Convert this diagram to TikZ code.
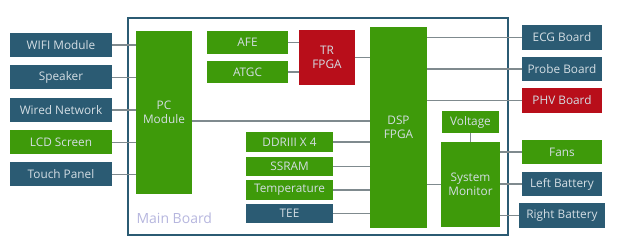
\documentclass[tikz,border=0pt]{standalone}
\usepackage{fontspec}
\setmainfont{Open Sans}
\definecolor{boardteal}{HTML}{2B5B73}
\definecolor{boardgreen}{HTML}{3E9A0A}
\definecolor{boardred}{HTML}{B80E1A}
\definecolor{boxtext}{HTML}{D4DEE4}
\definecolor{wirec}{HTML}{7F8A8E}
\definecolor{labelc}{HTML}{B6B6DE}
\tikzset{
  blk/.style={inner sep=0pt, text=boxtext, font=\fontsize{11.8}{14}\selectfont, align=center},
  tealblk/.style={blk, fill=boardteal},
  greenblk/.style={blk, fill=boardgreen},
  redblk/.style={blk, fill=boardred},
  wire/.style={draw=wirec, line width=1.3pt}
}
\begin{document}
\begin{tikzpicture}[x=1pt, y=-1pt]
\useasboundingbox (0,0) rectangle (624,245);
% main board frame
\draw[boardteal, line width=1.8pt] (128,18) rectangle (508,235);
\node[anchor=west, text=labelc, font=\fontsize{14}{16}\selectfont] (mainlbl) at (133,218) {Main Board};
% left side peripherals
\node[tealblk, minimum width=102pt, minimum height=24pt] (wifi) at (61,45) {WIFI Module};
\node[tealblk, minimum width=102pt, minimum height=24pt] (speaker) at (61,77.5) {Speaker};
\node[tealblk, minimum width=102pt, minimum height=24pt] (wired) at (61,110) {Wired Network};
\node[greenblk, minimum width=102pt, minimum height=24pt] (lcd) at (61,142.5) {LCD Screen};
\node[tealblk, minimum width=102pt, minimum height=24pt] (touch) at (61,174.5) {Touch Panel};
% on-board blocks
\node[greenblk, minimum width=56pt, minimum height=163pt] (pc) at (164,112.5) {PC\\Module};
\node[greenblk, minimum width=81pt, minimum height=23pt] (afe) at (247.5,42.5) {AFE};
\node[greenblk, minimum width=81pt, minimum height=22pt] (atgc) at (247.5,72) {ATGC};
\node[redblk, minimum width=56pt, minimum height=55pt] (tr) at (327,57.5) {TR\\FPGA};
\node[greenblk, minimum width=57pt, minimum height=201pt] (dsp) at (398.5,127.5) {DSP\\FPGA};
\node[greenblk, minimum width=87pt, minimum height=20pt] (ddr) at (289.5,142) {DDRIII X 4};
\node[greenblk, minimum width=87pt, minimum height=19pt] (ssram) at (289.5,166.5) {SSRAM};
\node[greenblk, minimum width=87pt, minimum height=20pt] (temp) at (289.5,190) {Temperature};
\node[tealblk, minimum width=87pt, minimum height=19pt] (tee) at (289.5,213.5) {TEE};
\node[greenblk, minimum width=57pt, minimum height=22pt] (volt) at (470.5,122) {Voltage};
\node[greenblk, minimum width=59pt, minimum height=85pt] (sysmon) at (470.5,184.5) {System\\Monitor};
% right side peripherals
\node[tealblk, minimum width=80pt, minimum height=25pt] (ecg) at (562,37.5) {ECG Board};
\node[tealblk, minimum width=80pt, minimum height=24pt] (probe) at (562,69) {Probe Board};
\node[redblk, minimum width=80pt, minimum height=25pt] (phv) at (562,100.5) {PHV Board};
\node[greenblk, minimum width=80pt, minimum height=24pt] (fans) at (562,152) {Fans};
\node[tealblk, minimum width=80pt, minimum height=24pt] (lbat) at (562,184) {Left Battery};
\node[tealblk, minimum width=86pt, minimum height=25pt] (rbat) at (562,215.5) {Right Battery};
% connectors
\foreach \n in {wifi, speaker, wired, lcd, touch}
  \draw[wire] (\n.east) -- (\n.east -| pc.west);
\draw[wire] (afe.east) -- (afe.east -| tr.west);
\draw[wire] (atgc.east) -- (atgc.east -| tr.west);
\draw[wire] (tr.east) -- (tr.east -| dsp.west);
\draw[wire] ([yshift=-8.5pt]pc.east) -- ([yshift=-8.5pt]pc.east -| dsp.west);
\foreach \n in {ddr, ssram, temp, tee}
  \draw[wire] (\n.east) -- (\n.east -| dsp.west);
\foreach \n in {ecg, probe, phv}
  \draw[wire] (\n.west -| dsp.east) -- (\n.west);
\draw[wire] (sysmon.west -| dsp.east) -- (sysmon.west);
\draw[wire] (volt.south) -- (sysmon.north);
\foreach \n in {fans, lbat, rbat}
  \draw[wire] (\n.west -| sysmon.east) -- (\n.west);
\end{tikzpicture}
\end{document}
